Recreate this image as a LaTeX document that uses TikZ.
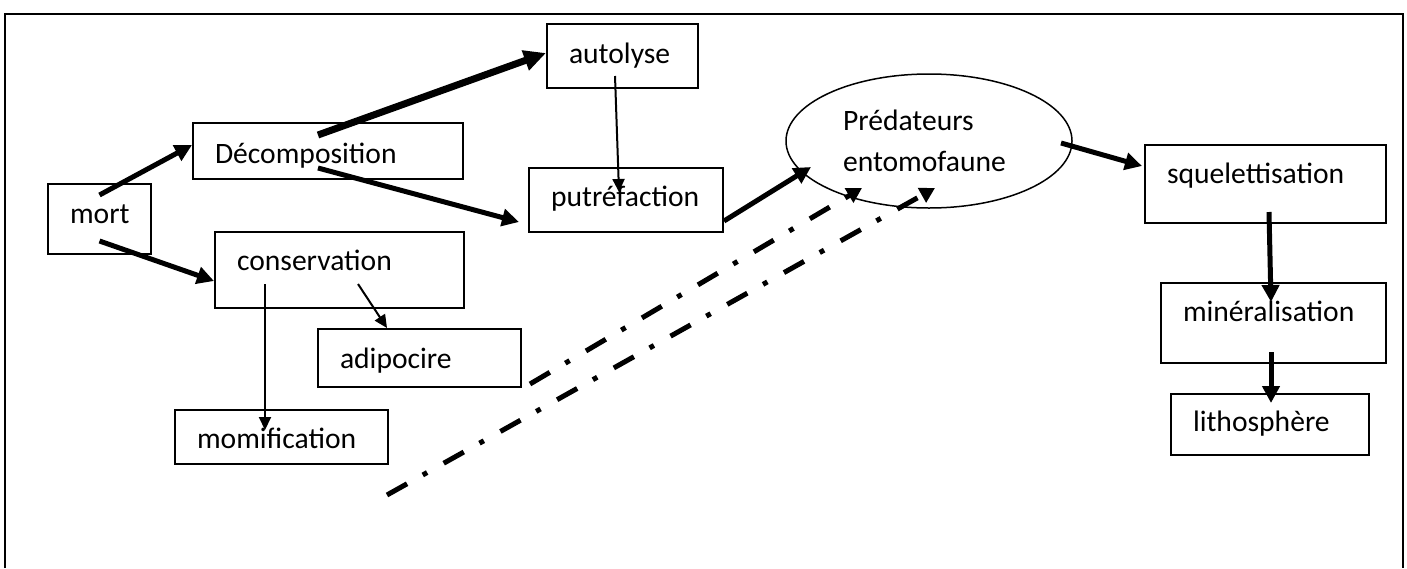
\documentclass[tikz,border=0pt]{standalone}
\usepackage{fontspec}
\setmainfont{Carlito}
\usetikzlibrary{shapes.geometric, arrows.meta}

\begin{document}
\begin{tikzpicture}[x=1pt, y=-1pt]
\tikzstyle{boite} = [rectangle, draw=black, line width=2pt, anchor=north west, inner xsep=21pt, inner ysep=0pt, align=left, text depth=8pt, font=\fontsize{29.6}{41}\selectfont]
\tikzstyle{bulle} = [ellipse, draw=black, line width=1.5pt, inner sep=0pt, align=left, font=\fontsize{29.6}{41}\selectfont]
\tikzstyle{fleche} = [line width=5pt, -{Triangle[length=17pt,width=17pt]}]
\tikzstyle{grosse} = [line width=7pt, -{Triangle[length=22pt,width=20pt]}]
\tikzstyle{fine} = [line width=2pt, -{Triangle[length=13pt,width=12pt]}]
\tikzstyle{pointille} = [line width=5pt, -{Triangle[length=15pt,width=16pt]}, dash pattern=on 23pt off 18pt on 5pt off 19pt]

\useasboundingbox (0,0) rectangle (1407,568);
% cadre
\draw [line width=2.5pt] (5,568) -- (5,14) -- (1403,14) -- (1403,568);

% boites
\node (mort) [boite, minimum width=103pt, minimum height=70pt, text width=59pt, text height=16pt] at (47,183) {mort};
\node (decomp) [boite, minimum width=270pt, minimum height=56pt, text width=226pt, text height=32pt] at (192,122) {Décomposition};
\node (conserv) [boite, minimum width=249pt, minimum height=76pt, text width=205pt, text height=8pt] at (214,231) {conservation};
\node (autolyse) [boite, minimum width=151pt, minimum height=64pt, text width=107pt, text height=22pt] at (546,23) {autolyse};
\node (putref) [boite, minimum width=194pt, minimum height=64pt, text width=150pt, text height=20pt] at (528,167) {putréfaction};
\node (adipo) [boite, minimum width=203pt, minimum height=58pt, text width=159pt, text height=28pt] at (317,328) {adipocire};
\node (momif) [boite, minimum width=213pt, minimum height=54pt, text width=169pt, text height=30pt] at (174,409) {momification};
\node (squel) [boite, minimum width=241pt, minimum height=78pt, text width=197pt, text height=6pt] at (1144,144) {squelettisation};
\node (miner) [boite, minimum width=225pt, minimum height=80pt, text width=181pt, text height=4pt] at (1160,282) {minéralisation};
\node (litho) [boite, minimum width=198pt, minimum height=61pt, text width=154pt, text height=21pt] at (1170,393) {lithosphère};
\node (pred) [bulle, minimum width=286pt, minimum height=134pt, text width=172pt] at (929,141) {Prédateurs\\entomofaune};

% departs libres des pointilles
\coordinate (debA) at (387,495);
\coordinate (debB) at (530,384);

% fleches
\draw [fleche] ([yshift=-12pt]mort.north) -- ([yshift=6pt]decomp.west);
\draw [fleche] ([yshift=14pt]mort.south) -- ([yshift=-11pt]conserv.west);
\draw [grosse] ([xshift=-10pt,yshift=-13pt]decomp.north) -- ([yshift=3pt]autolyse.west);
\draw [fleche] ([xshift=-10pt,yshift=12pt]decomp.south) -- ([xshift=-9pt,yshift=-22pt]putref.west);
\draw [fine] ([xshift=-7.5pt,yshift=13pt]autolyse.south) -- ([xshift=-7pt,yshift=-25pt]putref.north);
\draw [fleche] ([yshift=-21pt]putref.east) -- ([xshift=-118pt,yshift=-26pt]pred.center);
\draw [fleche] ([xshift=132pt,yshift=-2pt]pred.center) -- ([xshift=-2pt,yshift=18pt]squel.west);
\draw [fleche] ([xshift=3.5pt,yshift=12pt]squel.south) -- ([xshift=-2.5pt,yshift=-20pt]miner.north);
\draw [fleche] ([xshift=-2.5pt,yshift=12pt]miner.south) -- ([xshift=1pt,yshift=-10pt]litho.north);
\draw [fine] ([xshift=-74.5pt,yshift=25pt]conserv.south) -- ([xshift=-16.5pt,yshift=-21pt]momif.north);
\draw [fine] ([xshift=18.5pt,yshift=25pt]conserv.south) -- ([xshift=-32.5pt]adipo.north);
\draw [pointille] (debA) -- ([xshift=6pt,yshift=-47pt]pred.center);
\draw [pointille] (debB) -- ([xshift=-67pt,yshift=-47pt]pred.center);
\end{tikzpicture}
\end{document}
